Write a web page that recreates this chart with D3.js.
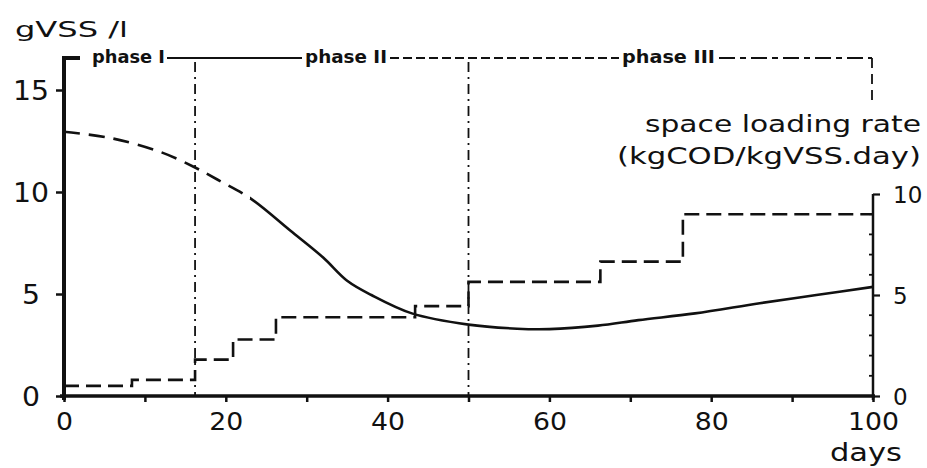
<!DOCTYPE html>
<html>
<head>
<meta charset="utf-8">
<script src="https://cdn.jsdelivr.net/npm/d3@7"></script>
<style>
  html, body { margin: 0; padding: 0; background: #fff; }
  svg { display: block; }
  text { font-family: "DejaVu Sans", sans-serif; fill: #111; }
</style>
</head>
<body>
<svg id="chart" width="927" height="468"></svg>
<script>
// ---- data ----
const biomassDays = [0, 5.7, 12, 16.2, 19, 23, 28, 32, 35, 38, 43, 50, 56, 60, 66, 71, 78, 86, 93, 100];
const biomassValues = [12.95, 12.65, 11.95, 11.2, 10.6, 9.7, 8.1, 6.8, 5.65, 4.95, 4.05, 3.5, 3.3, 3.28, 3.45, 3.72, 4.05, 4.55, 4.95, 5.35];
const biomassDashedUntil = 23;

const loadStartDays = [0, 8.4, 16.2, 20.9, 26.2, 43.4, 50, 66.3, 76.5];
const loadRates = [0.5, 0.8, 1.8, 2.8, 3.9, 4.45, 5.65, 6.65, 9.0];
const lastDay = 100;

const phaseBoundaryDays = [16.2, 50];
const phaseLabels = ["phase I", "phase II", "phase III"];

const xTicks = [0, 10, 20, 30, 40, 50, 60, 70, 80, 90, 100];
const xTickLabels = [0, 20, 40, 60, 80, 100];
const leftTicks = [0, 5, 10, 15];
const rightTicks = [0, 5, 10];
const rightMinorTicks = [1, 2, 3, 4, 6, 7, 8, 9];

const leftTitle = "gVSS /l";
const rightTitle1 = "space loading rate";
const rightTitle2 = "(kgCOD/kgVSS.day)";
const xTitle = "days";

// ---- layout ----
const svg = d3.select("#chart");
const x = d3.scaleLinear().domain([0, 100]).range([64, 873]);
const yL = d3.scaleLinear().domain([0, 15]).range([396, 90]);
const yR = d3.scaleLinear().domain([0, 10]).range([396, 194]);
const frameTop = 58;

function fitText(sel, w) {
  sel.attr("textLength", w).attr("lengthAdjust", "spacingAndGlyphs");
}

// ---- bottom axis ----
const xAxis = d3.axisBottom(x).tickValues(xTicks).tickSize(6).tickPadding(10)
  .tickFormat(d => xTickLabels.includes(d) ? String(d) : "");
const gx = svg.append("g").attr("transform", `translate(0,${yL(0)})`).call(xAxis);
gx.select(".domain").remove();
gx.selectAll(".tick line").attr("stroke", "#111").attr("stroke-width", 2.5);
gx.selectAll(".tick text").attr("font-size", 25).attr("fill", "#111").attr("font-family", "DejaVu Sans")
  .each(function (d) {
    if (xTickLabels.includes(d)) fitText(d3.select(this), String(d).length * 17);
  });
svg.append("line").attr("x1", x(0) - 4).attr("x2", x(100) + 2)
  .attr("y1", yL(0)).attr("y2", yL(0)).attr("stroke", "#111").attr("stroke-width", 3.5);

// ---- left axis ----
const yAxisL = d3.axisLeft(yL).tickValues(leftTicks).tickSize(8).tickFormat(d => String(d));
const gl = svg.append("g").attr("transform", `translate(${x(0)},0)`).call(yAxisL);
gl.select(".domain").remove();
gl.selectAll(".tick line").attr("stroke", "#111").attr("stroke-width", 2.5);
gl.selectAll(".tick text").attr("font-size", 27).attr("fill", "#111").attr("font-family", "DejaVu Sans")
  .attr("text-anchor", "middle").attr("x", 31 - x(0)).attr("dy", "0.36em")
  .each(function (d) { fitText(d3.select(this), String(d).length * 18); });
svg.append("path")
  .attr("d", `M${x(0)},${yL(0) + 4} L${x(0)},${frameTop} L${x(0) + 16},${frameTop}`)
  .attr("fill", "none").attr("stroke", "#111").attr("stroke-width", 4);

// ---- right axis ----
const yAxisR = d3.axisRight(yR).tickValues(rightTicks).tickSize(7).tickFormat(d => String(d));
const gr = svg.append("g").attr("transform", `translate(${x(100)},0)`).call(yAxisR);
gr.select(".domain").remove();
gr.selectAll(".tick line").attr("stroke", "#111").attr("stroke-width", 2.2);
gr.selectAll(".tick text").attr("font-size", 23).attr("fill", "#111").attr("font-family", "DejaVu Sans")
  .attr("x", 20).attr("dy", "0.36em");
svg.append("g").selectAll("line").data(rightMinorTicks).join("line")
  .attr("x1", x(100) - 4).attr("x2", x(100)).attr("y1", d => yR(d)).attr("y2", d => yR(d))
  .attr("stroke", "#111").attr("stroke-width", 1.8);
svg.append("line").attr("x1", x(100)).attr("x2", x(100))
  .attr("y1", yR(0) + 4).attr("y2", yR(10)).attr("stroke", "#111").attr("stroke-width", 2.5);

// ---- top phase bracket ----
const bracket = svg.append("g").attr("stroke", "#111").attr("fill", "none");
bracket.append("line").attr("x1", 167).attr("x2", 302).attr("y1", frameTop).attr("y2", frameTop)
  .attr("stroke-width", 1.8);
bracket.append("line").attr("x1", 390).attr("x2", 619).attr("y1", frameTop).attr("y2", frameTop)
  .attr("stroke-width", 1.8).attr("stroke-dasharray", "9,4");
bracket.append("line").attr("x1", 719).attr("x2", x(100) - 1).attr("y1", frameTop).attr("y2", frameTop)
  .attr("stroke-width", 1.8).attr("stroke-dasharray", "16,5,6,5");
bracket.append("line").attr("x1", x(100) - 1).attr("x2", x(100) - 1).attr("y1", frameTop).attr("y2", 102)
  .attr("stroke-width", 1.8).attr("stroke-dasharray", "10,6");

const phaseX = [[92, 73], [305, 82], [622, 93]];
svg.append("g").selectAll("text").data(phaseLabels).join("text")
  .attr("x", (d, i) => phaseX[i][0]).attr("y", frameTop + 5)
  .attr("font-size", 17).attr("font-weight", "bold")
  .text(d => d)
  .each(function (d, i) { fitText(d3.select(this), phaseX[i][1]); });

// ---- phase divider lines ----
svg.append("g").selectAll("line").data(phaseBoundaryDays).join("line")
  .attr("x1", d => x(d)).attr("x2", d => x(d))
  .attr("y1", frameTop + 4).attr("y2", yL(0))
  .attr("stroke", "#111").attr("stroke-width", 1.8).attr("stroke-dasharray", "10,5,2,5");

// ---- loading rate steps ----
const stepPts = loadStartDays.map((d, i) => [d, loadRates[i]]);
stepPts.push([lastDay, loadRates[loadRates.length - 1]]);
const stepLine = d3.line().x(d => x(d[0])).y(d => yR(d[1])).curve(d3.curveStepAfter);
svg.append("path").attr("d", stepLine(stepPts))
  .attr("fill", "none").attr("stroke", "#111").attr("stroke-width", 2.6)
  .attr("stroke-dasharray", "15,7");

// ---- biomass curve ----
const bioPts = biomassDays.map((d, i) => [d, biomassValues[i]]);
const bioPath = d3.line().x(d => x(d[0])).y(d => yL(d[1])).curve(d3.curveCatmullRom.alpha(0.5));
const splitIdx = biomassDays.indexOf(biomassDashedUntil);
// draw whole smooth curve, dashed part via a clip
const defs = svg.append("defs");
defs.append("clipPath").attr("id", "clipDash").append("rect")
  .attr("x", 0).attr("y", 0).attr("width", x(biomassDashedUntil)).attr("height", 468);
defs.append("clipPath").attr("id", "clipSolid").append("rect")
  .attr("x", x(biomassDashedUntil)).attr("y", 0).attr("width", 927).attr("height", 468);
svg.append("path").attr("d", bioPath(bioPts)).attr("clip-path", "url(#clipDash)")
  .attr("fill", "none").attr("stroke", "#111").attr("stroke-width", 2.6)
  .attr("stroke-dasharray", "16,9");
svg.append("path").attr("d", bioPath(bioPts)).attr("clip-path", "url(#clipSolid)")
  .attr("fill", "none").attr("stroke", "#111").attr("stroke-width", 2.6);

// ---- titles ----
svg.append("text").attr("x", 15).attr("y", 37).attr("font-size", 22).text(leftTitle)
  .call(fitText, 113);
svg.append("text").attr("x", 645).attr("y", 132).attr("font-size", 23).text(rightTitle1)
  .call(fitText, 276);
svg.append("text").attr("x", 617).attr("y", 164).attr("font-size", 23).text(rightTitle2)
  .call(fitText, 304);
svg.append("text").attr("x", 866).attr("y", 461).attr("font-size", 24).attr("text-anchor", "middle")
  .text(xTitle).call(fitText, 72);
</script>
</body>
</html>
